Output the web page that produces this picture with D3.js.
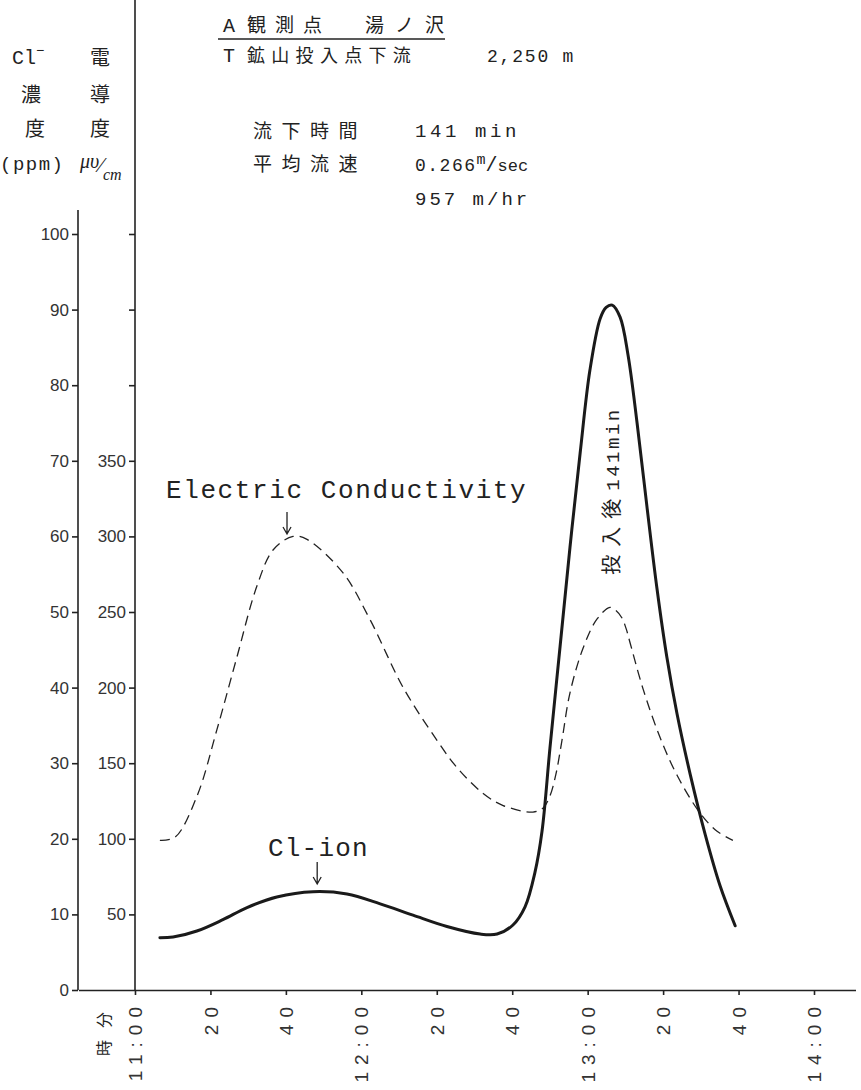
<!DOCTYPE html>
<html>
<head>
<meta charset="utf-8">
<script src="https://d3js.org/d3.v7.min.js"></script>
<style>
  body { margin: 0; background: #fff; }
  svg text { fill: #222; }
  .mono { font-family: "Liberation Mono", monospace; }
  .jp { font-family: "Noto Sans CJK JP", sans-serif; }
  .axis text { font-family: "Liberation Sans", sans-serif; font-size: 17px; fill: #333; }
  .axis line, .axis path { stroke: #222; stroke-width: 1.6; }
</style>
</head>
<body>
<svg id="chart" width="861" height="1090"></svg>
<script>
// minutes after 11:00 and values
const clTime = [6.6, 10.1, 16.4, 23.3, 29.7, 37.6, 47.2, 56.2, 65.0, 73.7, 82.7, 91.5, 96.0, 100.2, 103.4, 106.0, 107.9, 110.0, 112.7, 115.3, 118.0, 120.6, 123.3, 124.9, 126.5, 128.6, 130.7, 133.1, 135.7, 138.4, 141.0, 143.7, 147.2, 151.2, 155.1, 159.1];
const clValue = [6.9, 7.0, 7.8, 9.3, 10.9, 12.3, 13.0, 12.7, 11.4, 9.9, 8.4, 7.4, 7.4, 8.6, 11.0, 15.5, 21.0, 32.0, 45.5, 58.5, 71.0, 82.0, 88.8, 90.3, 90.6, 89.0, 84.0, 75.0, 64.0, 53.0, 44.0, 36.5, 28.5, 20.5, 13.8, 8.5];

const ecTime = [6.6, 10.6, 16.4, 21.7, 27.0, 32.3, 36.6, 41.9, 45.6, 55.1, 62.3, 71.1, 80.1, 85.4, 92.3, 97.6, 105.5, 108.2, 110.0, 111.6, 113.2, 115.3, 118.8, 122.5, 125.9, 127.5, 129.1, 130.2, 131.2, 134.7, 139.2, 143.7, 149.8, 154.3, 158.5];
const ecValue = [99, 101, 128, 172, 220, 267, 291, 300, 298, 276, 245, 200, 165, 147, 130, 122, 117.7, 120.4, 128.3, 142.9, 165.3, 196.4, 226.2, 245.4, 253, 251, 246, 239, 230, 199, 167, 142, 117, 105, 99];

const clTicks = [0, 10, 20, 30, 40, 50, 60, 70, 80, 90, 100];
const ecTicks = [50, 100, 150, 200, 250, 300, 350, 400, 450, 500];
const ecLabelled = [50, 100, 150, 200, 250, 300, 350];
const xTicks = [0, 20, 40, 60, 80, 100, 120, 140, 160, 180];
const xTickLabels = ['11:00', '20', '40', '12:00', '20', '40', '13:00', '20', '40', '14:00'];

const svg = d3.select('#chart');

const x = d3.scaleLinear().domain([-15, 191]).range([78.4, 855.5]);
const yCl = d3.scaleLinear().domain([0, 100]).range([990, 234]);
const yEc = d3.scaleLinear().domain([0, 500]).range([990, 234]);

// Cl axis
let clAxis = svg.append('g')
  .attr('class', 'axis')
  .attr('transform', 'translate(78,0)')
  .call(d3.axisLeft(yCl).tickValues(clTicks).tickSize(6).tickPadding(3).tickSizeOuter(0));
clAxis.select('.domain').remove();
clAxis.append('line').attr('x1', 0).attr('x2', 0).attr('y1', 210).attr('y2', 990);

// EC axis
let ecAxis = svg.append('g')
  .attr('class', 'axis')
  .attr('transform', 'translate(135,0)')
  .call(d3.axisLeft(yEc).tickValues(ecTicks).tickSize(6).tickPadding(3).tickSizeOuter(0)
    .tickFormat(d => ecLabelled.includes(d) ? d : ''));
ecAxis.select('.domain').remove();
ecAxis.append('line').attr('x1', 0).attr('x2', 0).attr('y1', 0).attr('y2', 990);

// time axis
let xAxis = svg.append('g')
  .attr('class', 'axis')
  .attr('transform', 'translate(0,990)')
  .call(d3.axisBottom(x).tickValues(xTicks).tickSize(5).tickSizeOuter(0)
    .tickFormat((d, i) => xTickLabels[i]));
xAxis.selectAll('.tick text')
  .attr('transform', 'rotate(-90)')
  .attr('text-anchor', 'end')
  .attr('x', -10)
  .attr('y', 0)
  .attr('dy', '0.35em')
  .style('font-size', '19px')
  .style('letter-spacing', '7px');

svg.append('text')
  .attr('class', 'jp')
  .attr('transform', 'translate(110,1000) rotate(-90)')
  .attr('text-anchor', 'end')
  .style('font-size', '16px')
  .style('letter-spacing', '12px')
  .text('時分');

// curves
const clData = clTime.map((t, i) => [t, clValue[i]]);
const ecData = ecTime.map((t, i) => [t, ecValue[i]]);

svg.append('path')
  .datum(ecData)
  .attr('fill', 'none')
  .attr('stroke', '#222')
  .attr('stroke-width', 1.3)
  .attr('stroke-dasharray', '10,6')
  .attr('d', d3.line().x(d => x(d[0])).y(d => yEc(d[1])).curve(d3.curveCatmullRom.alpha(0.5)));

svg.append('path')
  .datum(clData)
  .attr('fill', 'none')
  .attr('stroke', '#1a1a1a')
  .attr('stroke-width', 3)
  .attr('stroke-linecap', 'round')
  .attr('d', d3.line().x(d => x(d[0])).y(d => yCl(d[1])).curve(d3.curveCatmullRom.alpha(0.5)));

// annotations
function arrow(xp, y1, y2) {
  svg.append('path')
    .attr('d', `M${xp},${y1} L${xp},${y2} M${xp - 4},${y2 - 7} L${xp},${y2} L${xp + 4},${y2 - 7}`)
    .attr('fill', 'none').attr('stroke', '#222').attr('stroke-width', 1.3);
}

svg.append('text').attr('class', 'mono')
  .attr('x', 166).attr('y', 498)
  .style('font-size', '26px').style('letter-spacing', '1.6px')
  .text('Electric Conductivity');
arrow(x(40.3), 512, 534);

svg.append('text').attr('class', 'mono')
  .attr('x', 268).attr('y', 856)
  .style('font-size', '26px').style('letter-spacing', '1.2px')
  .text('Cl-ion');
arrow(x(48.3), 862, 884);

let peakText = svg.append('text')
  .attr('transform', 'translate(619,491) rotate(-90)')
  .attr('text-anchor', 'middle');
peakText.append('tspan').attr('class', 'jp').style('font-size', '20px').style('letter-spacing', '8px').text('投入後');
peakText.append('tspan').attr('class', 'mono').style('font-size', '19px').style('letter-spacing', '2.5px').text('141min');

// header, left
svg.append('text').attr('class', 'mono').attr('x', 12).attr('y', 64).style('font-size', '20px')
  .text('Cl').append('tspan').attr('dy', -9).style('font-size', '14px').text('−');
svg.append('text').attr('class', 'jp').attr('x', 100).attr('y', 65).attr('text-anchor', 'middle').style('font-size', '20px').text('電');
svg.append('text').attr('class', 'jp').attr('x', 31).attr('y', 102).attr('text-anchor', 'middle').style('font-size', '20px').text('濃');
svg.append('text').attr('class', 'jp').attr('x', 100).attr('y', 102).attr('text-anchor', 'middle').style('font-size', '20px').text('導');
svg.append('text').attr('class', 'jp').attr('x', 35).attr('y', 136).attr('text-anchor', 'middle').style('font-size', '20px').text('度');
svg.append('text').attr('class', 'jp').attr('x', 100).attr('y', 136).attr('text-anchor', 'middle').style('font-size', '20px').text('度');
svg.append('text').attr('class', 'mono').attr('x', 0).attr('y', 170).style('font-size', '19px').style('letter-spacing', '1.5px').text('(ppm)');
let unit = svg.append('text').attr('x', 80).attr('y', 168).style('font-family', '"Liberation Serif", serif').style('font-style', 'italic');
unit.append('tspan').style('font-size', '20px').text('μυ');
unit.append('tspan').attr('dy', 4).style('font-size', '22px').text('⁄');
unit.append('tspan').attr('dy', 8).style('font-size', '16px').text('cm');

// header, title
let t1 = svg.append('text').attr('y', 32);
t1.append('tspan').attr('class', 'mono').attr('x', 223).style('font-size', '20px').text('A');
t1.append('tspan').attr('class', 'jp').attr('x', 247).style('font-size', '19px').style('letter-spacing', '9px').text('観測点');
t1.append('tspan').attr('class', 'jp').attr('x', 365).style('font-size', '19px').style('letter-spacing', '11px').text('湯ノ沢');
svg.append('line').attr('x1', 218).attr('x2', 445).attr('y1', 39).attr('y2', 39).attr('stroke', '#222').attr('stroke-width', 1.4);

let t2 = svg.append('text').attr('y', 62);
t2.append('tspan').attr('class', 'mono').attr('x', 223).style('font-size', '20px').text('T');
t2.append('tspan').attr('class', 'jp').attr('x', 247).style('font-size', '18px').style('letter-spacing', '6.3px').text('鉱山投入点下流');
t2.append('tspan').attr('class', 'mono').attr('x', 487).style('font-size', '18px').style('letter-spacing', '1.8px').text('2,250 m');

// header, flow block
svg.append('text').attr('class', 'jp').attr('x', 253).attr('y', 138).style('font-size', '19px').style('letter-spacing', '9.5px').text('流下時間');
svg.append('text').attr('class', 'mono').attr('x', 415).attr('y', 137).style('font-size', '19px').style('letter-spacing', '3.6px').text('141 min');
svg.append('text').attr('class', 'jp').attr('x', 253).attr('y', 171).style('font-size', '19px').style('letter-spacing', '9.5px').text('平均流速');
let v = svg.append('text').attr('class', 'mono').attr('x', 415).attr('y', 171).style('font-size', '18px');
v.append('tspan').style('letter-spacing', '1.5px').text('0.266');
v.append('tspan').attr('dy', -7).style('font-size', '15px').text('m');
v.append('tspan').attr('dy', 7).style('font-size', '20px').text('/');
v.append('tspan').style('font-size', '17px').text('sec');
svg.append('text').attr('class', 'mono').attr('x', 415).attr('y', 205).style('font-size', '19px').style('letter-spacing', '3px').text('957 m/hr');
</script>
</body>
</html>
